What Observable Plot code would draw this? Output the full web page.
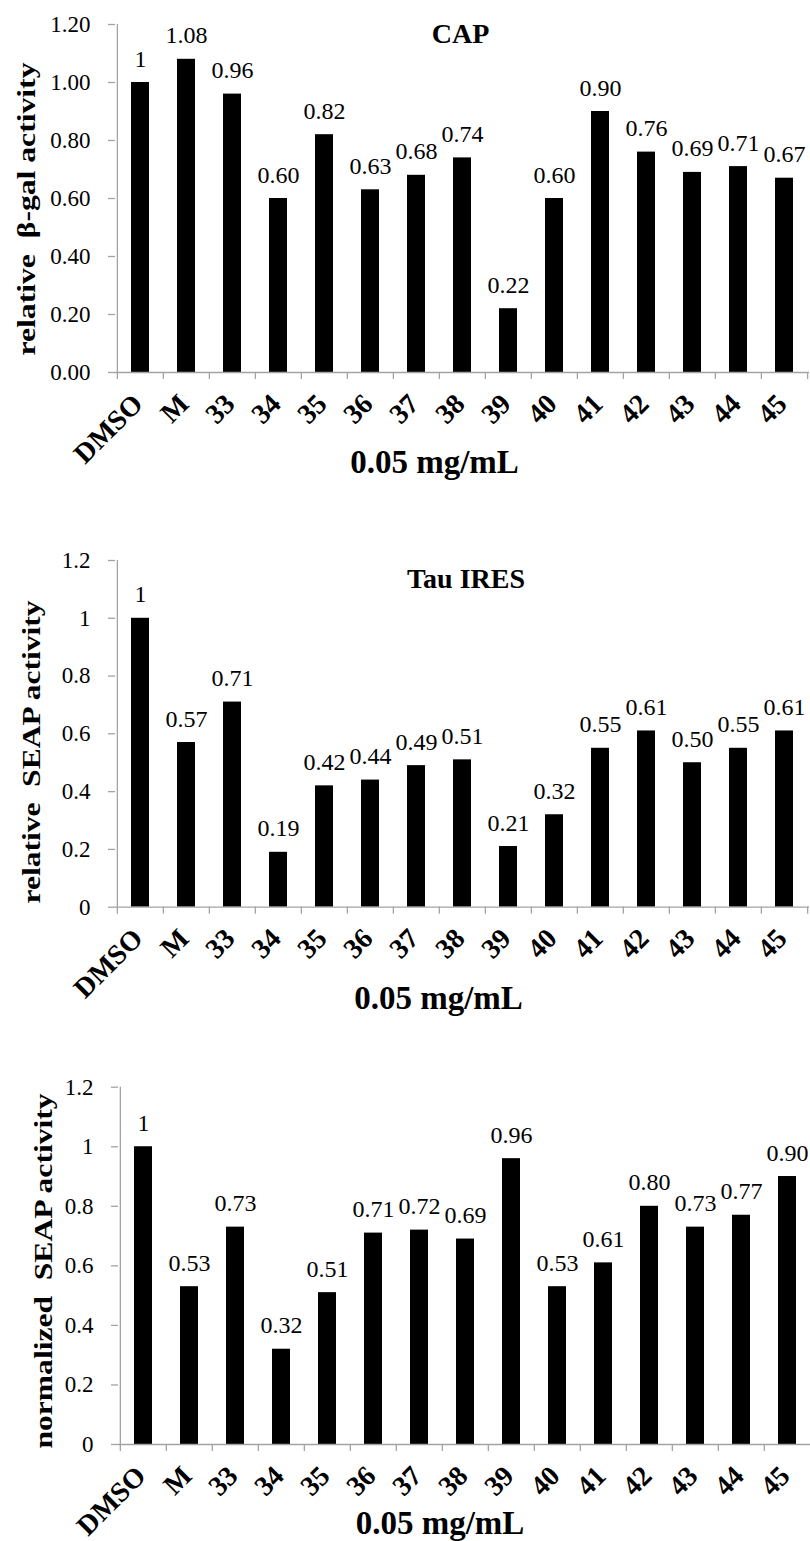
<!DOCTYPE html>
<html>
<head>
<meta charset="utf-8">
<script src="https://cdn.jsdelivr.net/npm/d3@7"></script>
<script src="https://cdn.jsdelivr.net/npm/@observablehq/plot@0.6"></script>
<style>
  html, body { margin: 0; padding: 0; background: #fff; }
  #wrap { position: relative; width: 810px; height: 1541px; overflow: hidden; }
  .panel { position: absolute; left: 0; }
  .panel svg { display: block; }
</style>
</head>
<body>
<div id="wrap"></div>
<script>
// ---------------- data ----------------
const categories = ["DMSO", "M", "33", "34", "35", "36", "37", "38", "39", "40", "41", "42", "43", "44", "45"];

const capValues  = [1, 1.08, 0.96, 0.60, 0.82, 0.63, 0.68, 0.74, 0.22, 0.60, 0.90, 0.76, 0.69, 0.71, 0.67];
const tauValues  = [1, 0.57, 0.71, 0.19, 0.42, 0.44, 0.49, 0.51, 0.21, 0.32, 0.55, 0.61, 0.50, 0.55, 0.61];
const normValues = [1, 0.53, 0.73, 0.32, 0.51, 0.71, 0.72, 0.69, 0.96, 0.53, 0.61, 0.80, 0.73, 0.77, 0.90];

const yTicksA = [0, 0.2, 0.4, 0.6, 0.8, 1.0, 1.2];
const yTickLabelsA = ["0.00", "0.20", "0.40", "0.60", "0.80", "1.00", "1.20"];
const yTicksB = [0, 0.2, 0.4, 0.6, 0.8, 1, 1.2];
const yTickLabelsB = ["0", "0.2", "0.4", "0.6", "0.8", "1", "1.2"];

const titles = ["CAP", "Tau IRES", ""];
const yLabels = ["relative  \u03B2-gal activity", "relative  SEAP activity", "normalized  SEAP activity"];
const xLabel = "0.05 mg/mL";

// ---------------- drawing ----------------
const FONT = "'Liberation Serif', 'Times New Roman', Times, serif";
const GRAY = "#a3a3a3";
const W = 810;

function valueText(v) { return v === 1 ? "1" : v.toFixed(2); }

function panel(cfg) {
  const {values, ticks, tickLabels, title, ylabel, top, height, ml, mr, mt, mb, titlePos, xlabPos, ylabPos, ylabLen} = cfg;
  const data = categories.map((c, i) => ({cat: c, v: values[i]}));
  const frameW = W - ml - mr;
  const step = frameW / categories.length;
  const at = (X, Y) => ({frameAnchor: "top-left", dx: X - ml, dy: Y - mt});
  const tickMap = new Map(ticks.map((t, i) => [t, tickLabels[i]]));

  const marks = [
    Plot.barY(data, {x: "cat", y: "v", fill: "#000"}),
    // x axis line
    Plot.ruleY([0], {stroke: GRAY, strokeWidth: 1.3}),
    // y axis line
    Plot.ruleX([categories[0]], {x: d => d, y1: 0, y2: 1.2, dx: -step / 2, stroke: GRAY, strokeWidth: 1.3}),
    // x tick marks at category boundaries
    Plot.ruleX(categories, {x: d => d, y1: 0, y2: 0, insetBottom: -7, dx: -step / 2, stroke: GRAY, strokeWidth: 1.3}),
    Plot.ruleX([categories[categories.length - 1]], {x: d => d, y1: 0, y2: 0, insetBottom: -7, dx: step / 2, stroke: GRAY, strokeWidth: 1.3}),
    // y tick marks (outside, to the left of the axis)
    Plot.ruleY(ticks, {y: d => d, insetLeft: -7, insetRight: frameW, stroke: GRAY, strokeWidth: 1.3}),
    // y tick labels
    Plot.text(ticks, {y: d => d, text: d => tickMap.get(d), frameAnchor: "left", dx: -25, textAnchor: "end", lineAnchor: "middle", fontSize: 23, fill: "#000"}),
    // x tick labels
    Plot.text(categories, {x: d => d, frameAnchor: "bottom", text: d => d, rotate: -45, textAnchor: "end", lineAnchor: "bottom", dx: 4, dy: 33, fontSize: 28, fontWeight: "bold", fill: "#000"}),
    // value labels
    Plot.text(data, {x: "cat", y: "v", text: d => valueText(d.v), lineAnchor: "bottom", dy: -16, fontSize: 24, fill: "#000"}),
    // x axis title
    Plot.text([xLabel], {...at(xlabPos[0], xlabPos[1]), text: d => d, textAnchor: "middle", lineAnchor: "bottom", fontSize: 33, fontWeight: "bold", fill: "#000"}),
    // y axis title
    Plot.text([ylabel], {...at(ylabPos[0], ylabPos[1]), text: d => d, rotate: -90, textAnchor: "middle", lineAnchor: "bottom", fontSize: 25, fontWeight: "bold", fill: "#000"})
  ];
  if (title) {
    marks.push(Plot.text([title], {...at(titlePos[0], titlePos[1]), text: d => d, textAnchor: "middle", lineAnchor: "bottom", fontSize: 28, fontWeight: "bold", fill: "#000"}));
  }

  const svg = Plot.plot({
    width: W,
    height,
    marginLeft: ml,
    marginRight: mr,
    marginTop: mt,
    marginBottom: mb,
    style: {fontFamily: FONT, background: "#fff", color: "#000"},
    x: {domain: categories, paddingInner: 0.61, paddingOuter: 0.305, axis: null},
    y: {domain: [0, 1.2], axis: null},
    marks
  });

  // stretch the y-axis title to the reference length
  d3.select(svg).selectAll("text").filter(function () { return this.textContent === ylabel; })
    .attr("textLength", ylabLen).attr("lengthAdjust", "spacingAndGlyphs");

  const div = document.createElement("div");
  div.className = "panel";
  div.style.top = top + "px";
  div.appendChild(svg);
  document.getElementById("wrap").appendChild(div);
}

panel({values: capValues, ticks: yTicksA, tickLabels: yTickLabelsA, title: titles[0], ylabel: yLabels[0],
  top: 0, height: 500, ml: 115, mr: 1, mt: 24, mb: 128,
  titlePos: [460, 42], xlabPos: [434, 472], ylabPos: [34, 208.5], ylabLen: 293});

panel({values: tauValues, ticks: yTicksB, tickLabels: yTickLabelsB, title: titles[1], ylabel: yLabels[1],
  top: 500, height: 540, ml: 115, mr: 1, mt: 60, mb: 133.3,
  titlePos: [465.5, 87], xlabPos: [438, 508], ylabPos: [39, 251.5], ylabLen: 303});

panel({values: normValues, ticks: yTicksB, tickLabels: yTickLabelsB, title: titles[2], ylabel: yLabels[2],
  top: 1040, height: 501, ml: 118, mr: -2.5, mt: 46.7, mb: 97,
  titlePos: [0, 0], xlabPos: [439.5, 493], ylabPos: [51, 230.5], ylabLen: 355});
</script>
</body>
</html>
